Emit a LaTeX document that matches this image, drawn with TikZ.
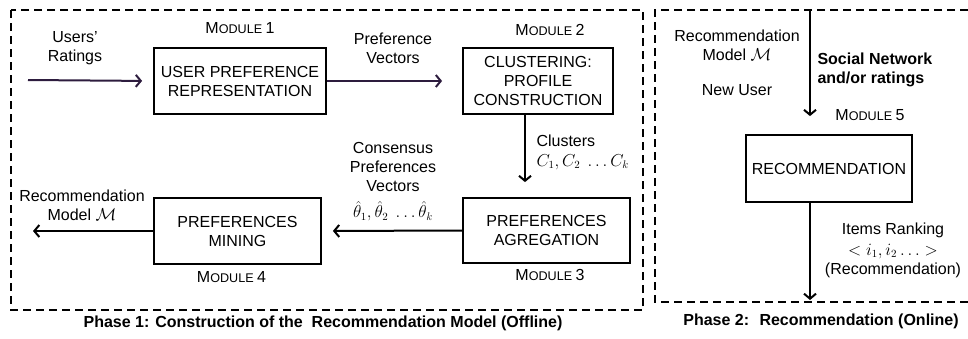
\documentclass[tikz,border=0pt]{standalone}
\usepackage{amsmath}
\usepackage{amssymb}
\usepackage{fontspec}
\setmainfont{Liberation Sans}
\usepackage{tikz}
\usetikzlibrary{arrows.meta, calc, positioning}
\definecolor{darkink}{RGB}{45,28,62}
\tikzstyle{module} = [rectangle, line width=1.8pt, align=center, draw=black]
\tikzstyle{arrow} = [line width=2pt, -{Straight Barb[length=5pt,width=12pt,line width=2pt]}]
\tikzstyle{phase} = [line width=1.8pt, dash pattern=on 8pt off 5pt]
\tikzstyle{phasename} = [font=\fontsize{16}{19}\selectfont\bfseries]
\newcommand{\modname}[1]{{\fontsize{16}{19}\selectfont M\fontsize{12.6}{15}\selectfont ODULE \fontsize{16}{19}\selectfont #1}}

\begin{document}
\begin{tikzpicture}[x=1pt, y=-1pt, every node/.style={align=center, font=\fontsize{16}{19}\selectfont}]
		\useasboundingbox (0,0) rectangle (968,338);
		% phase frames
		\draw [phase] (11,10) rectangle (643,310);
		\draw [phase] (968,10) -- (655,10) -- (655,302) -- (968,302);
		% modules
		\node (Rep) [module, minimum width=172, minimum height=66] at (240,81) {USER PREFERENCE\\REPRESENTATION};
		\node (Clu) [module, minimum width=150, minimum height=66] at (538,81) {CLUSTERING:\\PROFILE\\CONSTRUCTION};
		\node (Agr) [module, minimum width=167, minimum height=65] at (546.5,230.5) {PREFERENCES\\AGREGATION};
		\node (Min) [module, minimum width=167, minimum height=66] at (237.5,231) {PREFERENCES\\MINING};
		\node (Rec) [module, minimum width=166, minimum height=67] at (829,168.5) {RECOMMENDATION};
		\node (M1) [above = 10pt of Rep] {\modname{1}};
		\node (M2) at (550,30) {\modname{2}};
		\node (M3) [below = 2pt of Agr, xshift=3.5pt] {\modname{3}};
		\node (M4) [below = 3pt of Min, xshift=-6pt] {\modname{4}};
		\node (M5) at (870,115) {\modname{5}};
		% labels
		\node (Ratings) at (75,48) {Users'\\Ratings};
		\node (PrefVec) at (393,48) {Preference\\Vectors};
		\node (Clusters) [anchor=west, align=left] at (533,152) {Clusters\\[1pt]$C_1, C_2\ \ldots C_k$};
		\node (ConsVec) at (393,182) {Consensus\\Preferences\\Vectors\\[7pt]$\hat{\theta}_1,\hat{\theta}_2\ \ldots\hat{\theta}_k$};
		\node (Model) at (82,205) {Recommendation\\Model $\mathcal{M}$};
		\node (ModelIn) at (737,45) {Recommendation\\Model $\mathcal{M}$};
		\node (NewUser) at (737,90) {New User};
		\node (Social) [anchor=west, align=left, font=\fontsize{16}{19}\selectfont\bfseries] at (814,70) {Social Network\\and/or ratings};
		\node (Ranking) at (893,250) {Items Ranking\\[2pt]$<i_1, i_2 \ldots>$\\(Recommendation)};
		\node (Phase1) [phasename] at (323,323) {Phase 1: Construction of the~ Recommendation Model (Offline)};
		\node (Phase2) [phasename] at (821,321) {Phase 2:~ Recommendation (Online)};
		% connectors
		\coordinate (in1) at (28,80);
		\coordinate (c3) at (525,0);
		\coordinate (out4) at (33,231);
		\coordinate (top5) at (810,10);
		\coordinate (out5) at (810,300);
		\draw [arrow, darkink, shorten >=11pt] (in1) -- (Rep.west);
		\draw [arrow, darkink, shorten >=20pt] (Rep.east) -- (Clu.west);
		\draw [arrow, shorten >=15pt] (Clu.south -| c3) -- (Agr.north -| c3);
		\draw [arrow, shorten >=11pt] (Agr.west) -- (Min.east);
		\draw [arrow] (Min.west) -- (out4);
		\draw [arrow, shorten >=18pt] (top5) -- (Rec.north -| top5);
		\draw [arrow] (Rec.south -| out5) -- (out5);
		\end{tikzpicture}
\end{document}
